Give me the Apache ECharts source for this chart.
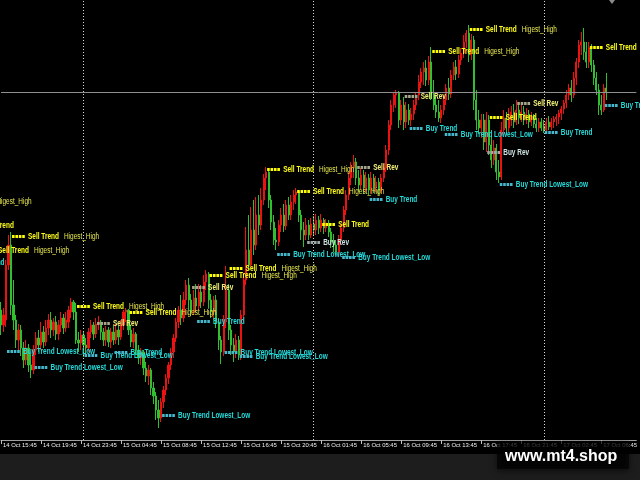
<!DOCTYPE html>
<html><head><meta charset="utf-8">
<script src="https://cdn.jsdelivr.net/npm/echarts@6/dist/echarts.min.js"></script>
<style>html,body{margin:0;padding:0;background:#000;}#c{width:640px;height:480px;}</style>
</head><body><div id="c"></div>
<script>
// ---- data -------------------------------------------------------------
const TOTAL = 255;        // M15 category slots across the window
const tickLabels = ['14 Oct 15:45','14 Oct 19:45','14 Oct 23:45','15 Oct 04:45','15 Oct 08:45',
  '15 Oct 12:45','15 Oct 16:45','15 Oct 20:45','16 Oct 01:45','16 Oct 05:45','16 Oct 09:45',
  '16 Oct 13:45','16 Oct 17:45','16 Oct 21:45','17 Oct 02:45','17 Oct 06:45'];
const daySeparators = ['15 Oct 01:00','16 Oct 01:00','17 Oct 01:00'];
const currentPrice = 348;

// [open, close, low, high]
const day14 = [
[130,115,105,138],[115,125,108,132],[120,175,113,180],[175,195,170,205],[195,135,125,208],
[135,120,110,160],[120,100,92,125],[100,110,88,116],[110,92,84,115],[92,80,72,98],
[80,92,75,100],[92,75,68,96],[75,70,62,86],[70,90,66,95],[90,102,85,108],
[102,95,88,110],[95,108,90,118],[108,98,92,114],[98,112,94,120],[112,120,105,126],
[120,110,102,128],[110,118,104,122],[118,106,100,124],[106,115,100,120],[115,122,108,128],
[122,112,106,126],[112,120,108,128],[118,130,112,134],[128,138,122,142],[138,128,120,140],
[128,100,96,137],[100,97,88,108],[97,105,90,110]];
const day15 = [
[105,95,83,108],[95,92,86,102],[92,108,88,112],[108,115,102,120],[115,106,100,118],
[106,116,102,122],[116,118,110,124],[118,108,100,120],[108,100,94,112],[100,110,94,114],
[110,98,93,113],[98,108,92,112],[108,100,95,115],[100,110,96,116],[110,103,95,114],
[103,115,100,120],[115,128,110,130],[128,130,118,132],[130,110,105,131],[110,98,93,115],
[98,106,92,112],[106,90,85,108],[90,82,76,95],[82,88,75,92],[88,72,65,90],
[72,64,58,78],[64,70,55,75],[70,52,45,72],[52,44,36,58],[44,30,20,48],
[30,22,12,40],[22,38,18,42],[38,50,32,54],[50,62,45,66],[62,75,56,78],
[75,88,70,92],[88,102,82,106],[102,118,98,122],[118,130,112,134],[130,122,115,145],
[122,140,118,148],[140,155,135,160],[155,140,130,162],[140,128,124,146],[128,142,125,150],
[142,134,128,156],[134,148,130,156],[148,138,132,155],[138,158,134,165],[158,166,150,170],
[166,140,132,168],[140,128,122,146],[128,140,120,144],[140,118,112,145],[118,100,90,122],
[100,88,76,104],[88,118,84,125],[118,150,112,174],[150,110,100,156],[110,95,85,115],
[95,88,78,102],[88,100,82,106],[100,85,80,104],[85,125,80,130],[125,160,118,165],
[160,190,155,213],[190,175,170,225],[175,210,172,233],[210,195,185,240],[195,225,190,243],
[225,215,205,245],[215,240,210,252],[240,262,235,266],[262,268,250,273],[268,240,232,271],
[240,218,210,245],[218,200,195,225],[200,198,190,212],[198,215,194,220],[215,225,208,232],
[225,214,208,236],[214,235,210,240],[235,225,220,243],[225,238,220,245],[238,245,230,250],
[245,248,236,252],[248,225,218,250],[225,210,200,230],[210,205,193,218],[205,215,200,222],
[215,205,200,220],[205,216,202,222]];
const day16 = [
[216,210,204,224],[210,220,205,226],[220,212,206,224],[212,220,208,226],[220,212,206,222],
[212,217,208,221],[217,208,203,220],[208,198,192,212],[198,195,188,206],[195,188,185,200],
[188,200,183,205],[200,212,195,216],[212,230,208,234],[230,245,225,250],[245,262,240,268],
[262,272,255,278],[272,278,262,285],[278,262,255,282],[262,255,248,270],[255,265,250,272],
[265,252,246,270],[252,262,248,268],[262,250,245,266],[250,262,246,268],[262,252,247,266],
[252,258,248,264],[258,250,245,262],[250,262,247,266],[262,272,258,276],[272,290,268,295],
[290,315,285,320],[315,335,310,340],[335,345,328,348],[345,347,332,350],[347,320,312,349],
[320,335,315,340],[335,318,310,343],[318,330,312,338],[330,320,315,336],[320,326,314,332],
[326,335,320,340],[335,345,330,348],[345,358,340,365],[358,368,352,372],[368,372,355,378],
[372,360,354,380],[360,378,355,384],[378,345,340,393],[345,335,330,360],[335,328,322,345],
[328,322,318,340],[322,330,317,335],[330,340,325,345],[340,352,335,356],[352,346,340,362],
[346,365,342,370],[365,373,360,378],[373,366,360,380],[366,380,362,385],[380,387,375,392],
[387,398,382,405],[398,407,392,410],[407,385,378,415],[385,400,380,406],[400,340,330,404],
[340,320,310,350],[320,312,306,330],[312,320,302,326],[320,298,290,326],[298,320,288,328],
[320,295,285,325],[295,280,272,305],[280,292,275,300],[292,268,260,296],[268,263,257,280],
[263,310,260,318],[310,322,305,330],[322,312,305,328],[312,320,308,332],[320,328,314,334],
[328,318,312,336],[318,330,315,340],[330,322,316,338],[322,328,318,336],[328,320,315,334],
[320,326,316,332],[326,318,312,330],[318,324,314,328],[324,316,312,326],[316,312,308,322],
[312,318,308,322],[318,312,309,322]];
const day17 = [
[314,310,307,320],[310,318,309,322],[318,313,310,324],[313,318,310,322],[318,321,312,324],
[321,323,314,326],[323,327,316,330],[327,331,320,334],[331,337,326,340],[337,345,332,350],
[345,352,340,356],[352,345,338,360],[345,362,342,368],[362,378,355,382],[378,395,372,400],
[395,398,385,408],[398,388,380,412],[388,378,372,398],[378,392,372,398],[392,375,368,396],
[375,362,355,380],[362,350,345,368],[350,335,325,356],[335,330,325,345],[330,352,328,356],
[352,348,340,367]];

// [bar index (0 = 14 Oct 15:45), price, kind, text, extra text]
const annotations = [
[-23,239,'sell','Sell Trend','Higest_High'],[-14,215,'sell','Sell Trend',''],
[4,204,'sell','Sell Trend','Higest_High'],[-8,190,'sell','Sell Trend','Higest_High'],
[-18,178,'buy','Buy Trend',''],[30,134,'sell','Sell Trend','Higest_High'],
[51,128,'sell','Sell Trend','Higest_High'],[38,117,'sellRev','Sell Rev',''],
[2,89,'buy','Buy Trend','Lowest_Low'],[33,85,'buy','Buy Trend','Lowest_Low'],
[45,88,'buy','Buy Trend',''],[13,73,'buy','Buy Trend','Lowest_Low'],
[76,153,'sellRev','Sell Rev',''],[83,165,'sell','Sell Trend','Higest_High'],
[91,172,'sell','Sell Trend','Higest_High'],[78,119,'buy','Buy Trend',''],
[89,88,'buy','Buy Trend','Lowest_Low'],[95,84,'buy','Buy Trend','Lowest_Low'],
[64,25,'buy','Buy Trend','Lowest_Low'],[110,186,'buy','Buy Trend','Lowest_Low'],
[106,271,'sell','Sell Trend','Higest_High'],[118,249,'sell','Sell Trend','Higest_High'],
[142,273,'sellRev','Sell Rev',''],[147,241,'buy','Buy Trend',''],
[128,216,'sell','Sell Trend',''],[122,198,'buyRev','Buy Rev',''],
[136,183,'buy','Buy Trend','Lowest_Low'],[187,411,'sell','Sell Trend','Higest_High'],
[172,389,'sell','Sell Trend','Higest_High'],[161,344,'sellRev','Sell Rev',''],
[163,312,'buy','Buy Trend',''],[177,306,'buy','Buy Trend','Lowest_Low'],
[206,337,'sellRev','Sell Rev',''],[195,323,'sell','Sell Trend',''],
[194,288,'buyRev','Buy Rev',''],[199,256,'buy','Buy Trend','Lowest_Low'],
[217,308,'buy','Buy Trend',''],[235,393,'sell','Sell Trend',''],
[241,335,'buy','Buy Trend','']];

// ---- build --------------------------------------------------------------
const categories = [];
let day = 14, mins = 15 * 60 + 45;
for (let k = 0; k < TOTAL; k++) {
  const h = Math.floor(mins / 60), m = mins % 60;
  categories.push(day + ' Oct ' + String(h).padStart(2, '0') + ':' + String(m).padStart(2, '0'));
  mins += 15;
  if (mins >= 24 * 60) { mins = 60; day++; }   // no 00:xx bars
}
const candles = [].concat(day14, day15, day16, day17);
const tickSet = new Set(tickLabels);

const STY = {
  sell:    {dash: '#ffff00', main: '#ffff1a', extra: '#e6e650'},
  buy:     {dash: '#45b8cc', main: '#26dada', extra: '#26dada'},
  sellRev: {dash: '#a6a68a', main: '#f2f27a', extra: '#f2f27a'},
  buyRev:  {dash: '#a0a8a8', main: '#cfe3e3', extra: '#cfe3e3'}
};
const FONT = '"Liberation Sans", Arial, sans-serif';

const chart = echarts.init(document.getElementById('c'), null, {renderer: 'canvas'});
chart.setOption({
  animation: false,
  backgroundColor: '#000',
  grid: {left: 0, top: 0, right: 0, height: 440, containLabel: false},
  xAxis: {
    type: 'category', data: categories, boundaryGap: false,
    axisLine: {show: true, lineStyle: {color: '#a0a0a0', width: 1}},
    axisTick: {show: true, length: 4, interval: (i, v) => tickSet.has(v),
      lineStyle: {color: '#c0c0c0'}},
    axisLabel: {show: true, showMinLabel: true, interval: (i, v) => tickSet.has(v), align: 'left', margin: 2,
      padding: [0, 0, 0, 2], color: '#f0f0f0', fontSize: 5.9, fontFamily: FONT},
    splitLine: {show: false}
  },
  yAxis: {type: 'value', min: 0, max: 440, show: false, splitLine: {show: false}},
  series: [{
    type: 'candlestick', data: candles, barWidth: 1.7,
    itemStyle: {color: '#ec1212', color0: '#2fbf2f', borderColor: '#ec1212', borderColor0: '#2fbf2f', borderWidth: 1},
    markLine: {
      silent: true, symbol: 'none', label: {show: false},
      data: daySeparators.map(d => ({xAxis: d, lineStyle: {color: '#d8d8d8', width: 1, type: [1, 2]}}))
        .concat([{yAxis: currentPrice, lineStyle: {color: '#8f8f8f', width: 1, type: 'solid'}}])
    },
    z: 2
  }, {
    type: 'custom', z: 5, silent: true, clip: false,
    data: annotations.map(a => [a[0], a[1]]),
    encode: {x: 0, y: 1},
    renderItem: function (params, api) {
      const a = annotations[params.dataIndex];
      const p = api.coord([a[0], a[1]]);
      const s = STY[a[2]];
      const x0 = p[0] + 1, y0 = Math.round(p[1]) + 0.5;
      const txt = a[4] ? (a[2] === 'sell' ? '{m|' + a[3] + '}  {e|' + a[4] + '}' : '{m|' + a[3] + ' ' + a[4] + '}') : '{m|' + a[3] + '}';
      return {type: 'group', children: [
        {type: 'line', shape: {x1: x0, y1: y0, x2: x0 + 13, y2: y0},
          style: {stroke: s.dash, lineWidth: 3, lineDash: [2.6, 0.8]}},
        {type: 'text', x: x0 + 16, y: y0, scaleX: 0.76, scaleY: 1,
          style: {text: txt, verticalAlign: 'middle', align: 'left',
            rich: {
              m: {fill: s.main, fontSize: 8.5, fontWeight: 'bold', fontFamily: FONT},
              e: {fill: s.extra, fontSize: 8.5, fontWeight: 'normal', fontFamily: FONT}
            }}}
      ]};
    }
  }],
  graphic: [
    {type: 'rect', shape: {x: 0, y: 454, width: 640, height: 26}, style: {fill: '#1d1d1d'}, z: 0},
    {type: 'polygon', shape: {points: [[609, 0], [615, 0], [612, 4]]}, style: {fill: '#8a8a8a'}},
    {type: 'rect', shape: {x: 497, y: 441, width: 132, height: 28},
      style: {fill: 'rgba(0,0,0,0.62)', shadowBlur: 6, shadowColor: 'rgba(0,0,0,0.9)', shadowOffsetY: 2}, z: 100},
    {type: 'text', x: 505, y: 457, z: 101,
      style: {text: 'www.mt4.shop', fill: '#ffffff', fontSize: 16, fontWeight: 'bold',
        fontFamily: '"Liberation Sans", Arial, sans-serif', verticalAlign: 'middle'}}
  ]
});
</script></body></html>
